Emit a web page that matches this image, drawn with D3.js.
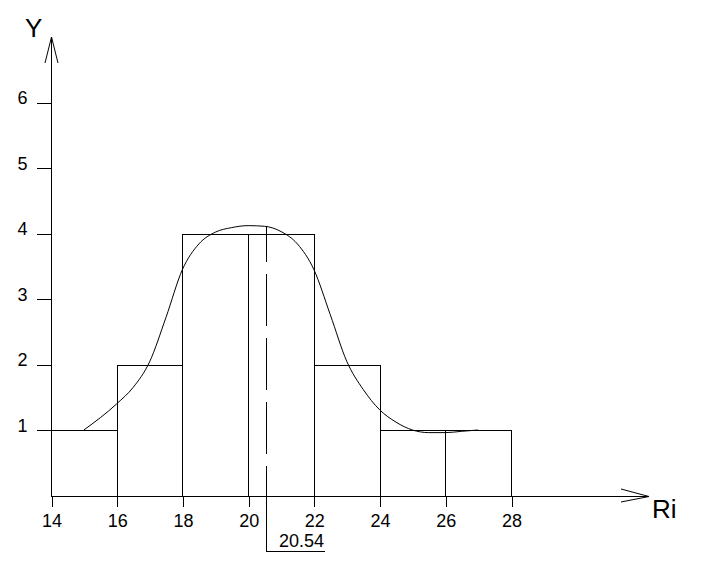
<!DOCTYPE html>
<html>
<head>
<meta charset="utf-8">
<script src="https://cdn.jsdelivr.net/npm/d3@7"></script>
<style>
  html, body { margin: 0; padding: 0; background: #fff; }
  svg { display: block; font-family: Arial, "Liberation Sans", sans-serif; }
</style>
</head>
<body>
<svg id="chart" width="713" height="563"></svg>
<script>
// ---- data ----
const binEdges = [14, 16, 18, 20, 22, 24, 26, 28];
const binCounts = [1, 2, 4, 4, 2, 1, 1];
const xTicks = [14, 16, 18, 20, 22, 24, 26, 28];
const yTicks = [1, 2, 3, 4, 5, 6];
const curveX = [15.0, 16.0, 16.5, 17.0, 17.5, 18.0, 18.5, 19.0, 19.5, 20.0, 20.5, 21.0, 21.5, 22.0, 22.5, 23.0, 23.5, 24.0, 24.5, 25.0, 25.5, 26.0, 26.5, 27.0];
const curveY = [1.0, 1.40, 1.65, 2.04, 2.72, 3.45, 3.84, 4.02, 4.09, 4.12, 4.11, 4.03, 3.84, 3.45, 2.76, 2.05, 1.62, 1.31, 1.12, 1.0, 0.96, 0.96, 0.98, 1.0];
const meanValue = 20.54;
const meanLabel = "20.54";
const xAxisTitle = "Ri";
const yAxisTitle = "Y";

// ---- scales ----
const x = d3.scaleLinear().domain([14, 28]).range([51, 511]);
const y = d3.scaleLinear().domain([0, 6]).range([495.5, 102.5]);

const svg = d3.select("#chart");
const ink = "#000";
const fontFam = "Arial, 'Liberation Sans', sans-serif";

// bars
const bins = binCounts.map((c, i) => ({ x0: binEdges[i], x1: binEdges[i + 1], c }));
svg.append("g").selectAll("rect").data(bins).join("rect")
  .attr("x", d => Math.round(x(d.x0)) + 0.5)
  .attr("y", d => Math.round(y(d.c)) + 0.5)
  .attr("width", d => Math.round(x(d.x1)) - Math.round(x(d.x0)))
  .attr("height", d => Math.round(y(0)) - Math.round(y(d.c)))
  .attr("fill", "none").attr("stroke", ink).attr("stroke-width", 1)
  .attr("shape-rendering", "crispEdges");

// x axis line + arrow
const axisY = Math.round(y(0)) + 0.5;
svg.append("line").attr("x1", 51).attr("x2", 649).attr("y1", axisY).attr("y2", axisY)
  .attr("stroke", ink).attr("shape-rendering", "crispEdges");
svg.append("path").attr("d", `M621,489 L649,${axisY} L621,502`)
  .attr("fill", "none").attr("stroke", ink).attr("stroke-width", 1);

// y axis line + arrow
const axisX = Math.round(x(14)) + 0.5;
svg.append("line").attr("x1", axisX).attr("x2", axisX).attr("y1", axisY).attr("y2", 37)
  .attr("stroke", ink).attr("shape-rendering", "crispEdges");
svg.append("path").attr("d", `M45,63 L${axisX},37 L58,63`)
  .attr("fill", "none").attr("stroke", ink).attr("stroke-width", 1);

// x ticks via axis
const gx = svg.append("g").attr("transform", `translate(0.5,${axisY})`)
  .call(d3.axisBottom(x).tickValues(xTicks).tickSize(10).tickPadding(8).tickFormat(d3.format("d")));
gx.select(".domain").remove();
gx.selectAll("line").attr("stroke", ink).attr("shape-rendering", "crispEdges");
gx.selectAll("text").attr("fill", ink).style("font-size", "18px").style("font-family", fontFam);

// y ticks via axis
const gy = svg.append("g").attr("transform", `translate(${axisX},0)`)
  .call(d3.axisLeft(y).tickValues(yTicks).tickSize(15).tickPadding(9).tickFormat(d3.format("d")));
gy.select(".domain").remove();
gy.selectAll("line").attr("stroke", ink).attr("shape-rendering", "crispEdges");
gy.selectAll("text").attr("fill", ink).attr("dy", "1").style("font-size", "18px").style("font-family", fontFam);

// axis titles
svg.append("text").attr("x", 25).attr("y", 37).text(yAxisTitle)
  .style("font-size", "26px").attr("fill", ink);
svg.append("text").attr("x", 652).attr("y", 518).text(xAxisTitle)
  .style("font-size", "26px").attr("fill", ink);

// fitted curve
const pts = curveX.map((v, i) => [v, curveY[i]]);
svg.append("path")
  .attr("d", d3.line().x(d => x(d[0])).y(d => y(d[1])).curve(d3.curveMonotoneX)(pts))
  .attr("fill", "none").attr("stroke", ink).attr("stroke-width", 1);

// mean dash-dot line
const mx = Math.round(x(meanValue)) + 0.5;
svg.append("line").attr("x1", mx).attr("x2", mx).attr("y1", axisY).attr("y2", y(4.11))
  .attr("stroke", ink).attr("stroke-dasharray", "52,12").attr("stroke-dashoffset", 21)
  .attr("shape-rendering", "crispEdges");

// mean bracket and label
svg.append("path").attr("d", `M${mx},${axisY} L${mx},551.5 L325,551.5`)
  .attr("fill", "none").attr("stroke", ink).attr("shape-rendering", "crispEdges");
svg.append("text").attr("x", 324).attr("y", 547).attr("text-anchor", "end")
  .text(meanLabel).style("font-size", "18px").style("font-family", fontFam).attr("fill", ink);
</script>
</body>
</html>
